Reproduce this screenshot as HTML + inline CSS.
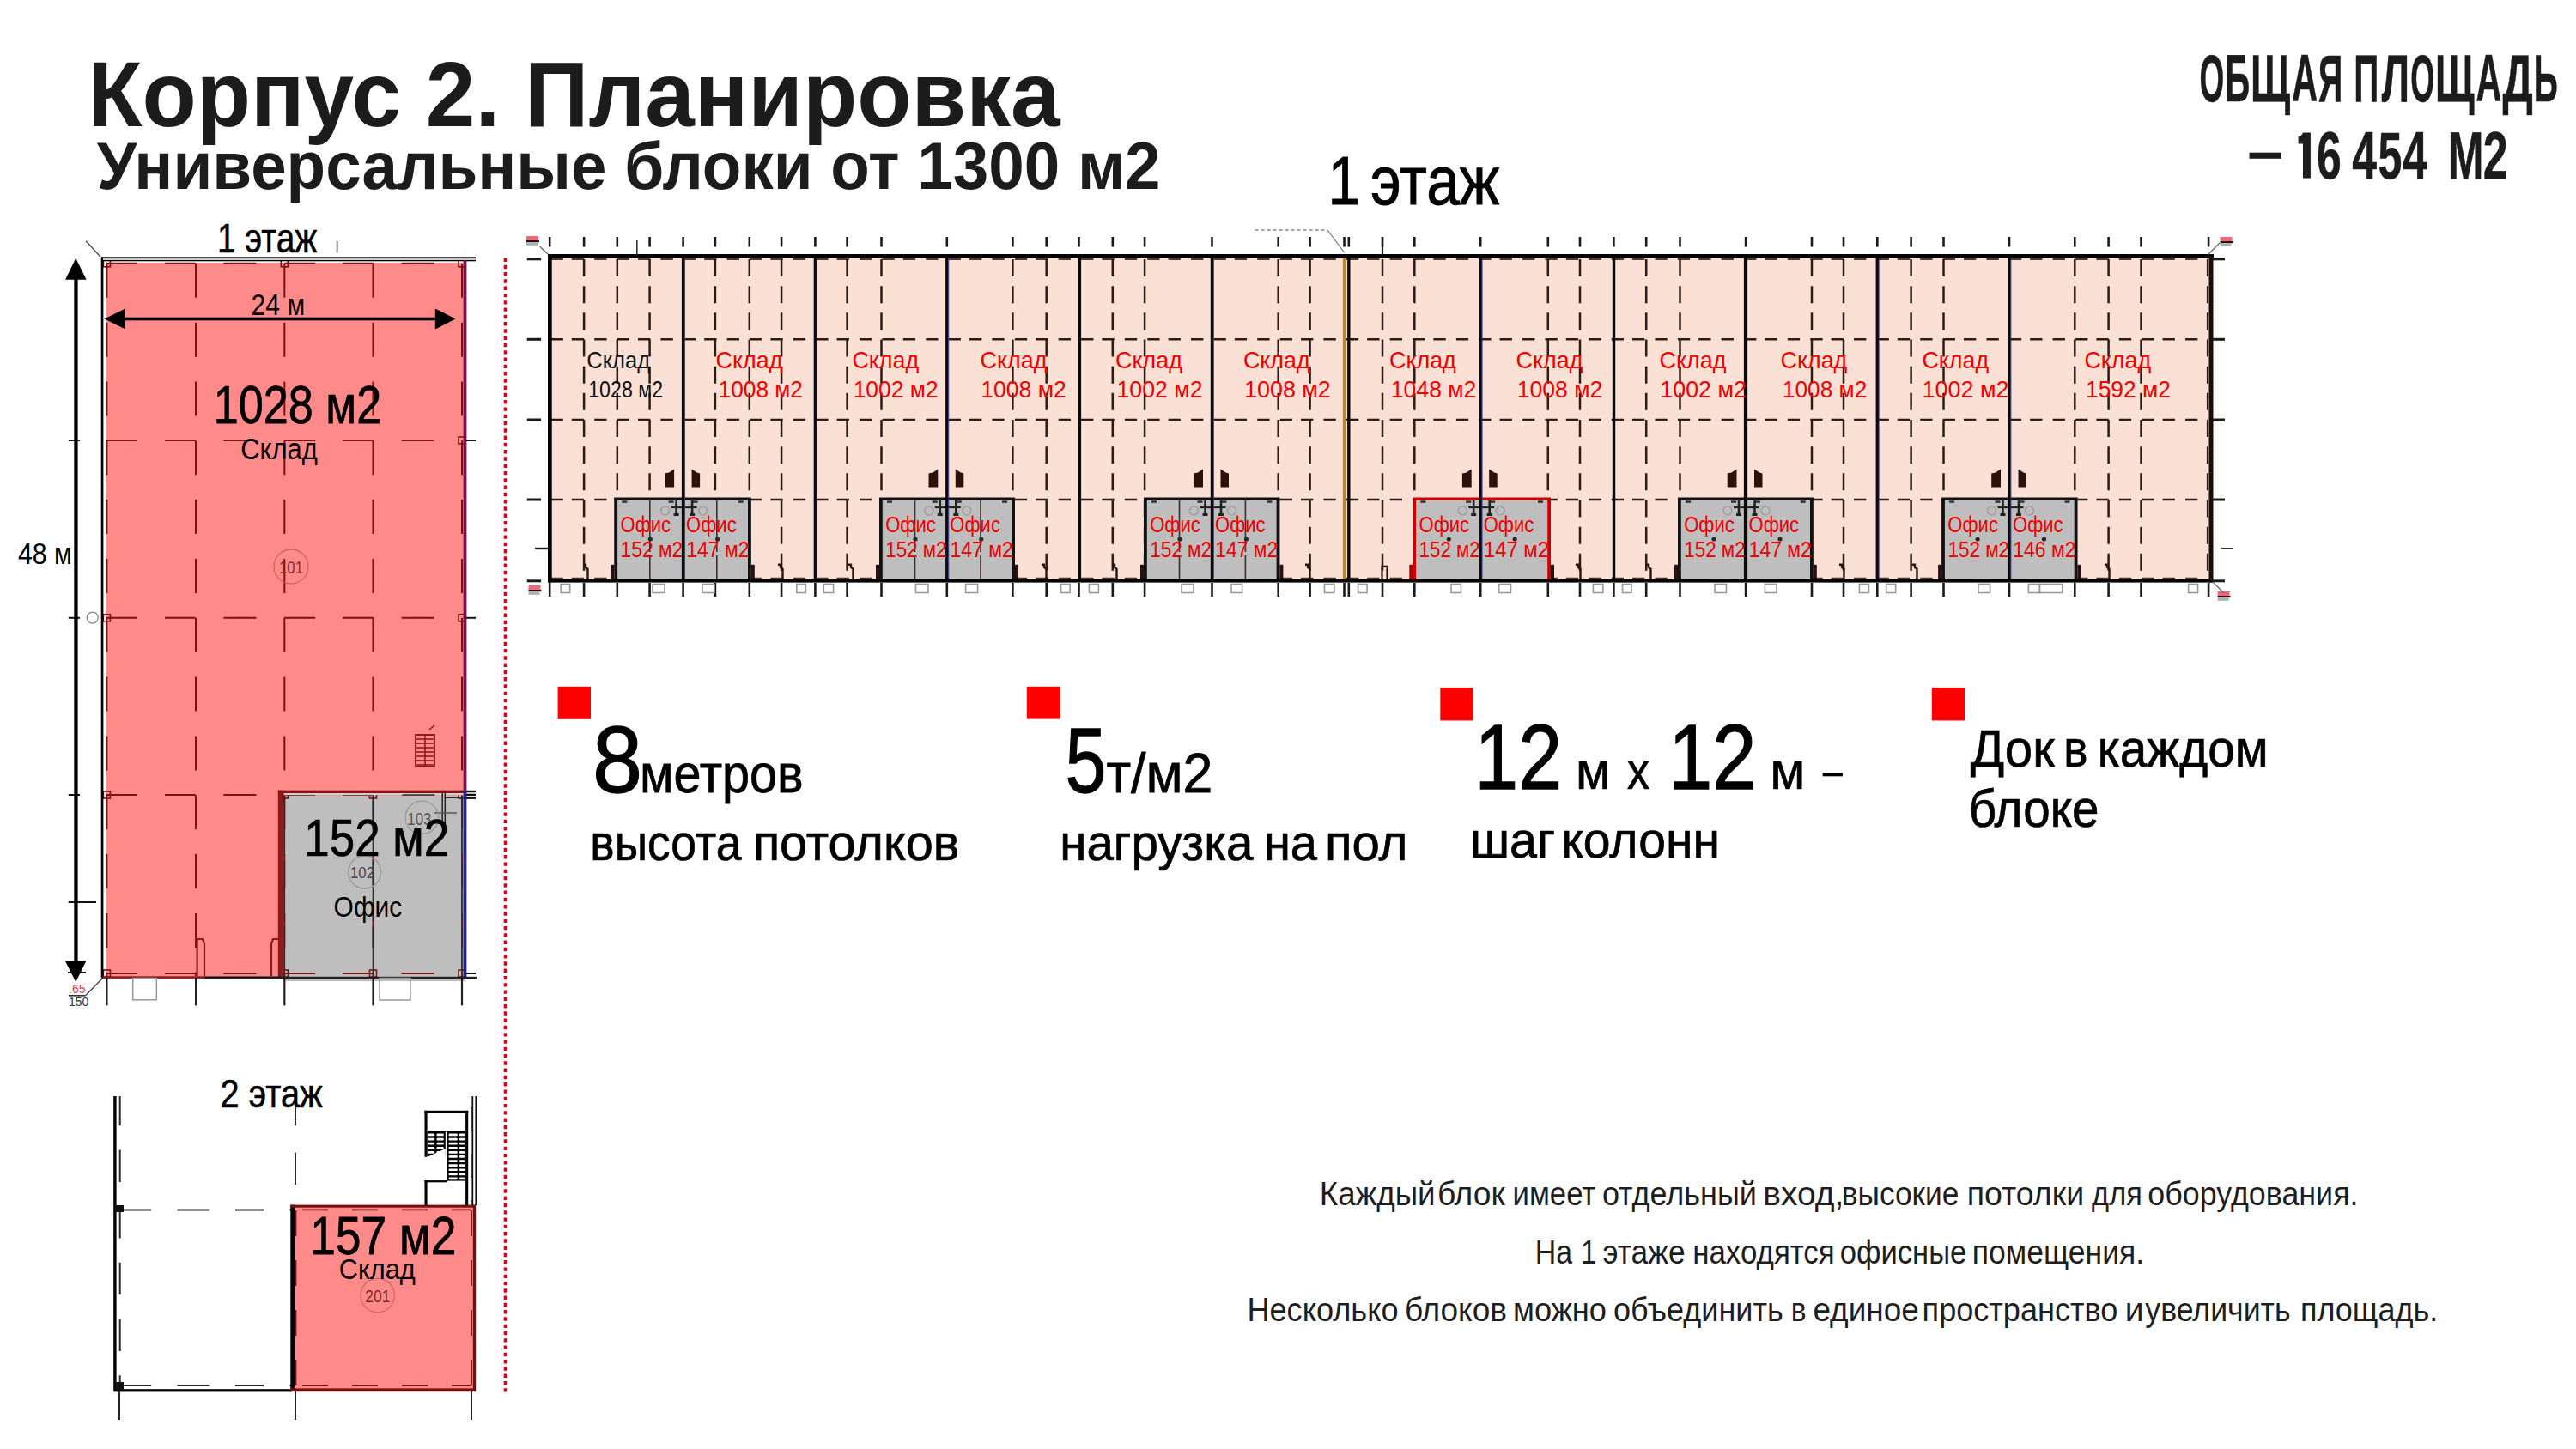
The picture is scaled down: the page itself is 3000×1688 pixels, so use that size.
<!DOCTYPE html>
<html><head><meta charset="utf-8"><title>Корпус 2. Планировка</title>
<style>
html,body{margin:0;padding:0;background:#fff;}
body{width:3000px;height:1688px;overflow:hidden;position:relative;}
svg{position:absolute;left:0;top:0;display:block;font-family:"Liberation Sans",sans-serif;}
</style></head><body>
<svg width="3000" height="1688" viewBox="0 0 3000 1688">
<rect x="640.3" y="298.3" width="1934.7" height="378.5" fill="#FBE0D5" />
<line x1="641.5" y1="395.3" x2="2572.0" y2="395.3" stroke="#2A1C16" stroke-width="2.5" stroke-dasharray="14.3 10 14.3 12.15 14.3 12.15"/>
<line x1="641.5" y1="489.0" x2="2572.0" y2="489.0" stroke="#2A1C16" stroke-width="2.5" stroke-dasharray="14.3 10 14.3 12.15 14.3 12.15"/>
<line x1="641.5" y1="582.0" x2="2572.0" y2="582.0" stroke="#2A1C16" stroke-width="2.5" stroke-dasharray="14.3 10 14.3 12.15 14.3 12.15"/>
<line x1="641.5" y1="301.8" x2="2572.0" y2="301.8" stroke="#2A1C16" stroke-width="2.2" stroke-dasharray="14.3 10 14.3 12.15 14.3 12.15" stroke-opacity="0.85"/>
<line x1="641.5" y1="673.8" x2="2572.0" y2="673.8" stroke="#2A1C16" stroke-width="2.2" stroke-dasharray="14.3 10 14.3 12.15 14.3 12.15" stroke-opacity="0.85"/>
<line x1="680.1" y1="302.0" x2="680.1" y2="676.0" stroke="#2A1C16" stroke-width="2.5" stroke-dasharray="20 11.17"/>
<line x1="718.8" y1="302.0" x2="718.8" y2="676.0" stroke="#2A1C16" stroke-width="2.5" stroke-dasharray="20 11.17"/>
<line x1="756.6" y1="302.0" x2="756.6" y2="676.0" stroke="#2A1C16" stroke-width="2.5" stroke-dasharray="20 11.17"/>
<line x1="832.9" y1="302.0" x2="832.9" y2="676.0" stroke="#2A1C16" stroke-width="2.5" stroke-dasharray="20 11.17"/>
<line x1="872.8" y1="302.0" x2="872.8" y2="676.0" stroke="#2A1C16" stroke-width="2.5" stroke-dasharray="20 11.17"/>
<line x1="910.1" y1="302.0" x2="910.1" y2="676.0" stroke="#2A1C16" stroke-width="2.5" stroke-dasharray="20 11.17"/>
<line x1="986.6" y1="302.0" x2="986.6" y2="676.0" stroke="#2A1C16" stroke-width="2.5" stroke-dasharray="20 11.17"/>
<line x1="1026.5" y1="302.0" x2="1026.5" y2="676.0" stroke="#2A1C16" stroke-width="2.5" stroke-dasharray="20 11.17"/>
<line x1="1179.4" y1="302.0" x2="1179.4" y2="676.0" stroke="#2A1C16" stroke-width="2.5" stroke-dasharray="20 11.17"/>
<line x1="1218.7" y1="302.0" x2="1218.7" y2="676.0" stroke="#2A1C16" stroke-width="2.5" stroke-dasharray="20 11.17"/>
<line x1="1295.8" y1="302.0" x2="1295.8" y2="676.0" stroke="#2A1C16" stroke-width="2.5" stroke-dasharray="20 11.17"/>
<line x1="1333.1" y1="302.0" x2="1333.1" y2="676.0" stroke="#2A1C16" stroke-width="2.5" stroke-dasharray="20 11.17"/>
<line x1="1488.7" y1="302.0" x2="1488.7" y2="676.0" stroke="#2A1C16" stroke-width="2.5" stroke-dasharray="20 11.17"/>
<line x1="1525.6" y1="302.0" x2="1525.6" y2="676.0" stroke="#2A1C16" stroke-width="2.5" stroke-dasharray="20 11.17"/>
<line x1="1610.0" y1="302.0" x2="1610.0" y2="676.0" stroke="#2A1C16" stroke-width="2.5" stroke-dasharray="20 11.17"/>
<line x1="1647.3" y1="302.0" x2="1647.3" y2="676.0" stroke="#2A1C16" stroke-width="2.5" stroke-dasharray="20 11.17"/>
<line x1="1802.8" y1="302.0" x2="1802.8" y2="676.0" stroke="#2A1C16" stroke-width="2.5" stroke-dasharray="20 11.17"/>
<line x1="1840.0" y1="302.0" x2="1840.0" y2="676.0" stroke="#2A1C16" stroke-width="2.5" stroke-dasharray="20 11.17"/>
<line x1="1917.2" y1="302.0" x2="1917.2" y2="676.0" stroke="#2A1C16" stroke-width="2.5" stroke-dasharray="20 11.17"/>
<line x1="1956.5" y1="302.0" x2="1956.5" y2="676.0" stroke="#2A1C16" stroke-width="2.5" stroke-dasharray="20 11.17"/>
<line x1="2110.0" y1="302.0" x2="2110.0" y2="676.0" stroke="#2A1C16" stroke-width="2.5" stroke-dasharray="20 11.17"/>
<line x1="2147.0" y1="302.0" x2="2147.0" y2="676.0" stroke="#2A1C16" stroke-width="2.5" stroke-dasharray="20 11.17"/>
<line x1="2225.6" y1="302.0" x2="2225.6" y2="676.0" stroke="#2A1C16" stroke-width="2.5" stroke-dasharray="20 11.17"/>
<line x1="2263.5" y1="302.0" x2="2263.5" y2="676.0" stroke="#2A1C16" stroke-width="2.5" stroke-dasharray="20 11.17"/>
<line x1="2416.3" y1="302.0" x2="2416.3" y2="676.0" stroke="#2A1C16" stroke-width="2.5" stroke-dasharray="20 11.17"/>
<line x1="2455.6" y1="302.0" x2="2455.6" y2="676.0" stroke="#2A1C16" stroke-width="2.5" stroke-dasharray="20 11.17"/>
<line x1="2493.5" y1="302.0" x2="2493.5" y2="676.0" stroke="#2A1C16" stroke-width="2.5" stroke-dasharray="20 11.17"/>
<rect x="715.3" y="580.0" width="159.5" height="96.8" fill="#BEBEBE" />
<rect x="715.3" y="580.0" width="3.8" height="96.8" fill="#111" />
<rect x="871.0" y="580.0" width="3.8" height="96.8" fill="#111" />
<rect x="715.3" y="579.5" width="159.5" height="3.0" fill="#111" />
<line x1="756.8" y1="583.0" x2="756.8" y2="674.8" stroke="#3a3030" stroke-width="1.6" stroke-dasharray="60 4"/>
<line x1="834.8" y1="583.0" x2="834.8" y2="674.8" stroke="#3a3030" stroke-width="1.6" stroke-dasharray="60 4"/>
<rect x="724.3" y="583.3" width="6.0" height="2.5" fill="#333" />
<rect x="778.6" y="583.3" width="6.0" height="2.5" fill="#333" />
<rect x="806.6" y="583.3" width="6.0" height="2.5" fill="#333" />
<rect x="859.8" y="583.3" width="6.0" height="2.5" fill="#333" />
<line x1="781.6" y1="591.0" x2="811.6" y2="591.0" stroke="#222" stroke-width="2.2"/>
<line x1="787.6" y1="583.0" x2="787.6" y2="600.0" stroke="#222" stroke-width="2.6"/>
<line x1="806.1" y1="583.0" x2="806.1" y2="600.0" stroke="#222" stroke-width="2.6"/>
<rect x="784.6" y="598.0" width="6.0" height="3.0" fill="#222" />
<rect x="803.1" y="598.0" width="6.0" height="3.0" fill="#222" />
<circle cx="774.6" cy="595.0" r="5" fill="none" stroke="#8a8a8a" stroke-width="1.6" opacity="0.6"/>
<circle cx="818.6" cy="595.0" r="5" fill="none" stroke="#8a8a8a" stroke-width="1.6" opacity="0.6"/>
<circle cx="757.3" cy="628.0" r="2.6" fill="#2a2a2a"/>
<circle cx="835.6" cy="628.0" r="2.6" fill="#2a2a2a"/>
<rect x="711.3" y="657.8" width="4.0" height="19.0" fill="#2a1010" />
<rect x="874.8" y="657.8" width="4.0" height="19.0" fill="#2a1010" />
<path d="M774.3000000000001,567.5 L774.3000000000001,551.5 L779.1,550.5 L785.1,546.6 L785.1,567.5 Z" fill="#2A120C" />
<path d="M805.6,567.5 L805.6,546.6 L811.6,550.5 L815.1,551.5 L815.1,567.5 Z" fill="#2A120C" />
<text x="722.5" y="619.7" font-size="25.5" fill="#F00000" textLength="58.6" lengthAdjust="spacingAndGlyphs" >Офис</text>
<text x="722.6" y="649.2" font-size="26" fill="#F00000" textLength="72.7" lengthAdjust="spacingAndGlyphs" >152 м2</text>
<text x="799.1" y="619.7" font-size="25.5" fill="#F00000" textLength="58.6" lengthAdjust="spacingAndGlyphs" >Офис</text>
<text x="799.3" y="649.2" font-size="26" fill="#F00000" textLength="73.3" lengthAdjust="spacingAndGlyphs" >147 м2</text>
<rect x="1024.0" y="580.0" width="158.0" height="96.8" fill="#BEBEBE" />
<rect x="1024.0" y="580.0" width="3.8" height="96.8" fill="#111" />
<rect x="1178.2" y="580.0" width="3.8" height="96.8" fill="#111" />
<rect x="1024.0" y="579.5" width="158.0" height="3.0" fill="#111" />
<line x1="1065.5" y1="583.0" x2="1065.5" y2="674.8" stroke="#3a3030" stroke-width="1.6" stroke-dasharray="60 4"/>
<line x1="1142.0" y1="583.0" x2="1142.0" y2="674.8" stroke="#3a3030" stroke-width="1.6" stroke-dasharray="60 4"/>
<rect x="1033.0" y="583.3" width="6.0" height="2.5" fill="#333" />
<rect x="1085.8" y="583.3" width="6.0" height="2.5" fill="#333" />
<rect x="1113.8" y="583.3" width="6.0" height="2.5" fill="#333" />
<rect x="1167.0" y="583.3" width="6.0" height="2.5" fill="#333" />
<line x1="1088.8" y1="591.0" x2="1118.8" y2="591.0" stroke="#222" stroke-width="2.2"/>
<line x1="1094.8" y1="583.0" x2="1094.8" y2="600.0" stroke="#222" stroke-width="2.6"/>
<line x1="1113.3" y1="583.0" x2="1113.3" y2="600.0" stroke="#222" stroke-width="2.6"/>
<rect x="1091.8" y="598.0" width="6.0" height="3.0" fill="#222" />
<rect x="1110.3" y="598.0" width="6.0" height="3.0" fill="#222" />
<circle cx="1081.8" cy="595.0" r="5" fill="none" stroke="#8a8a8a" stroke-width="1.6" opacity="0.6"/>
<circle cx="1125.8" cy="595.0" r="5" fill="none" stroke="#8a8a8a" stroke-width="1.6" opacity="0.6"/>
<circle cx="1066.0" cy="628.0" r="2.6" fill="#2a2a2a"/>
<circle cx="1142.8" cy="628.0" r="2.6" fill="#2a2a2a"/>
<rect x="1020.0" y="657.8" width="4.0" height="19.0" fill="#2a1010" />
<rect x="1182.0" y="657.8" width="4.0" height="19.0" fill="#2a1010" />
<path d="M1081.5,567.5 L1081.5,551.5 L1086.3,550.5 L1092.3,546.6 L1092.3,567.5 Z" fill="#2A120C" />
<path d="M1112.8,567.5 L1112.8,546.6 L1118.8,550.5 L1122.3,551.5 L1122.3,567.5 Z" fill="#2A120C" />
<text x="1031.2" y="619.7" font-size="25.5" fill="#F00000" textLength="58.6" lengthAdjust="spacingAndGlyphs" >Офис</text>
<text x="1031.3" y="649.2" font-size="26" fill="#F00000" textLength="71.1" lengthAdjust="spacingAndGlyphs" >152 м2</text>
<text x="1106.3" y="619.7" font-size="25.5" fill="#F00000" textLength="58.6" lengthAdjust="spacingAndGlyphs" >Офис</text>
<text x="1106.5" y="649.2" font-size="26" fill="#F00000" textLength="73.3" lengthAdjust="spacingAndGlyphs" >147 м2</text>
<rect x="1332.0" y="580.0" width="158.4" height="96.8" fill="#BEBEBE" />
<rect x="1332.0" y="580.0" width="3.8" height="96.8" fill="#111" />
<rect x="1486.6" y="580.0" width="3.8" height="96.8" fill="#111" />
<rect x="1332.0" y="579.5" width="158.4" height="3.0" fill="#111" />
<line x1="1373.5" y1="583.0" x2="1373.5" y2="674.8" stroke="#3a3030" stroke-width="1.6" stroke-dasharray="60 4"/>
<line x1="1450.4" y1="583.0" x2="1450.4" y2="674.8" stroke="#3a3030" stroke-width="1.6" stroke-dasharray="60 4"/>
<rect x="1341.0" y="583.3" width="6.0" height="2.5" fill="#333" />
<rect x="1394.5" y="583.3" width="6.0" height="2.5" fill="#333" />
<rect x="1422.5" y="583.3" width="6.0" height="2.5" fill="#333" />
<rect x="1475.4" y="583.3" width="6.0" height="2.5" fill="#333" />
<line x1="1397.5" y1="591.0" x2="1427.5" y2="591.0" stroke="#222" stroke-width="2.2"/>
<line x1="1403.5" y1="583.0" x2="1403.5" y2="600.0" stroke="#222" stroke-width="2.6"/>
<line x1="1422.0" y1="583.0" x2="1422.0" y2="600.0" stroke="#222" stroke-width="2.6"/>
<rect x="1400.5" y="598.0" width="6.0" height="3.0" fill="#222" />
<rect x="1419.0" y="598.0" width="6.0" height="3.0" fill="#222" />
<circle cx="1390.5" cy="595.0" r="5" fill="none" stroke="#8a8a8a" stroke-width="1.6" opacity="0.6"/>
<circle cx="1434.5" cy="595.0" r="5" fill="none" stroke="#8a8a8a" stroke-width="1.6" opacity="0.6"/>
<circle cx="1374.0" cy="628.0" r="2.6" fill="#2a2a2a"/>
<circle cx="1451.5" cy="628.0" r="2.6" fill="#2a2a2a"/>
<rect x="1328.0" y="657.8" width="4.0" height="19.0" fill="#2a1010" />
<rect x="1490.4" y="657.8" width="4.0" height="19.0" fill="#2a1010" />
<path d="M1390.2,567.5 L1390.2,551.5 L1395.0,550.5 L1401.0,546.6 L1401.0,567.5 Z" fill="#2A120C" />
<path d="M1421.5,567.5 L1421.5,546.6 L1427.5,550.5 L1431.0,551.5 L1431.0,567.5 Z" fill="#2A120C" />
<text x="1339.2" y="619.7" font-size="25.5" fill="#F00000" textLength="58.6" lengthAdjust="spacingAndGlyphs" >Офис</text>
<text x="1339.3" y="649.2" font-size="26" fill="#F00000" textLength="71.8" lengthAdjust="spacingAndGlyphs" >152 м2</text>
<text x="1415.0" y="619.7" font-size="25.5" fill="#F00000" textLength="58.6" lengthAdjust="spacingAndGlyphs" >Офис</text>
<text x="1415.3" y="649.2" font-size="26" fill="#F00000" textLength="73.0" lengthAdjust="spacingAndGlyphs" >147 м2</text>
<rect x="1645.3" y="580.0" width="160.7" height="96.8" fill="#BEBEBE" />
<rect x="1645.3" y="580.0" width="3.8" height="96.8" fill="#D00000" />
<rect x="1802.2" y="580.0" width="3.8" height="96.8" fill="#D00000" />
<rect x="1645.3" y="579.5" width="160.7" height="3.0" fill="#D00000" />
<rect x="1654.3" y="583.3" width="6.0" height="2.5" fill="#333" />
<rect x="1707.2" y="583.3" width="6.0" height="2.5" fill="#333" />
<rect x="1735.2" y="583.3" width="6.0" height="2.5" fill="#333" />
<rect x="1791.0" y="583.3" width="6.0" height="2.5" fill="#333" />
<line x1="1710.2" y1="591.0" x2="1740.2" y2="591.0" stroke="#222" stroke-width="2.2"/>
<line x1="1716.2" y1="583.0" x2="1716.2" y2="600.0" stroke="#222" stroke-width="2.6"/>
<line x1="1734.7" y1="583.0" x2="1734.7" y2="600.0" stroke="#222" stroke-width="2.6"/>
<rect x="1713.2" y="598.0" width="6.0" height="3.0" fill="#222" />
<rect x="1731.7" y="598.0" width="6.0" height="3.0" fill="#222" />
<circle cx="1703.2" cy="595.0" r="5" fill="none" stroke="#8a8a8a" stroke-width="1.6" opacity="0.6"/>
<circle cx="1747.2" cy="595.0" r="5" fill="none" stroke="#8a8a8a" stroke-width="1.6" opacity="0.6"/>
<circle cx="1687.3" cy="628.0" r="2.6" fill="#2a2a2a"/>
<circle cx="1764.2" cy="628.0" r="2.6" fill="#2a2a2a"/>
<rect x="1641.3" y="657.8" width="4.0" height="19.0" fill="#B00000" />
<rect x="1806.0" y="657.8" width="4.0" height="19.0" fill="#2a1010" />
<path d="M1702.9,567.5 L1702.9,551.5 L1707.7,550.5 L1713.7,546.6 L1713.7,567.5 Z" fill="#2A120C" />
<path d="M1734.2,567.5 L1734.2,546.6 L1740.2,550.5 L1743.7,551.5 L1743.7,567.5 Z" fill="#2A120C" />
<text x="1652.5" y="619.7" font-size="25.5" fill="#F00000" textLength="58.6" lengthAdjust="spacingAndGlyphs" >Офис</text>
<text x="1652.6" y="649.2" font-size="26" fill="#F00000" textLength="71.2" lengthAdjust="spacingAndGlyphs" >152 м2</text>
<text x="1727.7" y="619.7" font-size="25.5" fill="#F00000" textLength="58.6" lengthAdjust="spacingAndGlyphs" >Офис</text>
<text x="1727.9" y="649.2" font-size="26" fill="#F00000" textLength="76.0" lengthAdjust="spacingAndGlyphs" >147 м2</text>
<rect x="1954.0" y="580.0" width="157.8" height="96.8" fill="#BEBEBE" />
<rect x="1954.0" y="580.0" width="3.8" height="96.8" fill="#111" />
<rect x="2108.0" y="580.0" width="3.8" height="96.8" fill="#111" />
<rect x="1954.0" y="579.5" width="157.8" height="3.0" fill="#111" />
<rect x="1963.0" y="583.3" width="6.0" height="2.5" fill="#333" />
<rect x="2016.0" y="583.3" width="6.0" height="2.5" fill="#333" />
<rect x="2044.0" y="583.3" width="6.0" height="2.5" fill="#333" />
<rect x="2096.8" y="583.3" width="6.0" height="2.5" fill="#333" />
<line x1="2019.0" y1="591.0" x2="2049.0" y2="591.0" stroke="#222" stroke-width="2.2"/>
<line x1="2025.0" y1="583.0" x2="2025.0" y2="600.0" stroke="#222" stroke-width="2.6"/>
<line x1="2043.5" y1="583.0" x2="2043.5" y2="600.0" stroke="#222" stroke-width="2.6"/>
<rect x="2022.0" y="598.0" width="6.0" height="3.0" fill="#222" />
<rect x="2040.5" y="598.0" width="6.0" height="3.0" fill="#222" />
<circle cx="2012.0" cy="595.0" r="5" fill="none" stroke="#8a8a8a" stroke-width="1.6" opacity="0.6"/>
<circle cx="2056.0" cy="595.0" r="5" fill="none" stroke="#8a8a8a" stroke-width="1.6" opacity="0.6"/>
<circle cx="1996.0" cy="628.0" r="2.6" fill="#2a2a2a"/>
<circle cx="2073.0" cy="628.0" r="2.6" fill="#2a2a2a"/>
<rect x="1950.0" y="657.8" width="4.0" height="19.0" fill="#2a1010" />
<rect x="2111.8" y="657.8" width="4.0" height="19.0" fill="#2a1010" />
<path d="M2011.7,567.5 L2011.7,551.5 L2016.5,550.5 L2022.5,546.6 L2022.5,567.5 Z" fill="#2A120C" />
<path d="M2043.0,567.5 L2043.0,546.6 L2049.0,550.5 L2052.5,551.5 L2052.5,567.5 Z" fill="#2A120C" />
<text x="1961.2" y="619.7" font-size="25.5" fill="#F00000" textLength="58.6" lengthAdjust="spacingAndGlyphs" >Офис</text>
<text x="1961.3" y="649.2" font-size="26" fill="#F00000" textLength="71.3" lengthAdjust="spacingAndGlyphs" >152 м2</text>
<text x="2036.5" y="619.7" font-size="25.5" fill="#F00000" textLength="58.6" lengthAdjust="spacingAndGlyphs" >Офис</text>
<text x="2036.8" y="649.2" font-size="26" fill="#F00000" textLength="72.9" lengthAdjust="spacingAndGlyphs" >147 м2</text>
<rect x="2261.1" y="580.0" width="158.4" height="96.8" fill="#BEBEBE" />
<rect x="2261.1" y="580.0" width="3.8" height="96.8" fill="#111" />
<rect x="2415.7" y="580.0" width="3.8" height="96.8" fill="#111" />
<rect x="2261.1" y="579.5" width="158.4" height="3.0" fill="#111" />
<rect x="2270.1" y="583.3" width="6.0" height="2.5" fill="#333" />
<rect x="2323.5" y="583.3" width="6.0" height="2.5" fill="#333" />
<rect x="2351.5" y="583.3" width="6.0" height="2.5" fill="#333" />
<rect x="2404.5" y="583.3" width="6.0" height="2.5" fill="#333" />
<line x1="2326.5" y1="591.0" x2="2356.5" y2="591.0" stroke="#222" stroke-width="2.2"/>
<line x1="2332.5" y1="583.0" x2="2332.5" y2="600.0" stroke="#222" stroke-width="2.6"/>
<line x1="2351.0" y1="583.0" x2="2351.0" y2="600.0" stroke="#222" stroke-width="2.6"/>
<rect x="2329.5" y="598.0" width="6.0" height="3.0" fill="#222" />
<rect x="2348.0" y="598.0" width="6.0" height="3.0" fill="#222" />
<circle cx="2319.5" cy="595.0" r="5" fill="none" stroke="#8a8a8a" stroke-width="1.6" opacity="0.6"/>
<circle cx="2363.5" cy="595.0" r="5" fill="none" stroke="#8a8a8a" stroke-width="1.6" opacity="0.6"/>
<circle cx="2303.1" cy="628.0" r="2.6" fill="#2a2a2a"/>
<circle cx="2380.5" cy="628.0" r="2.6" fill="#2a2a2a"/>
<rect x="2257.1" y="657.8" width="4.0" height="19.0" fill="#2a1010" />
<rect x="2419.5" y="657.8" width="4.0" height="19.0" fill="#2a1010" />
<path d="M2319.2,567.5 L2319.2,551.5 L2324.0,550.5 L2330.0,546.6 L2330.0,567.5 Z" fill="#2A120C" />
<path d="M2350.5,567.5 L2350.5,546.6 L2356.5,550.5 L2360.0,551.5 L2360.0,567.5 Z" fill="#2A120C" />
<text x="2268.3" y="619.7" font-size="25.5" fill="#F00000" textLength="58.6" lengthAdjust="spacingAndGlyphs" >Офис</text>
<text x="2268.4" y="649.2" font-size="26" fill="#F00000" textLength="71.7" lengthAdjust="spacingAndGlyphs" >152 м2</text>
<text x="2344.0" y="619.7" font-size="25.5" fill="#F00000" textLength="58.6" lengthAdjust="spacingAndGlyphs" >Офис</text>
<text x="2344.3" y="649.2" font-size="26" fill="#F00000" textLength="73.1" lengthAdjust="spacingAndGlyphs" >146 м2</text>
<line x1="795.6" y1="298.3" x2="795.6" y2="676.8" stroke="#0a0a0a" stroke-width="3.4"/>
<line x1="797.5" y1="301.3" x2="797.5" y2="674.8" stroke="#3030a0" stroke-width="1.1" stroke-opacity="0.8"/>
<line x1="949.4" y1="298.3" x2="949.4" y2="676.8" stroke="#0a0a0a" stroke-width="3.4"/>
<line x1="951.3" y1="301.3" x2="951.3" y2="674.8" stroke="#3030a0" stroke-width="1.1" stroke-opacity="0.8"/>
<line x1="1102.8" y1="298.3" x2="1102.8" y2="676.8" stroke="#0a0a0a" stroke-width="3.4"/>
<line x1="1104.7" y1="301.3" x2="1104.7" y2="674.8" stroke="#3030a0" stroke-width="1.1" stroke-opacity="0.8"/>
<line x1="1257.4" y1="298.3" x2="1257.4" y2="676.8" stroke="#0a0a0a" stroke-width="3.4"/>
<line x1="1411.5" y1="298.3" x2="1411.5" y2="676.8" stroke="#0a0a0a" stroke-width="3.4"/>
<line x1="1413.4" y1="301.3" x2="1413.4" y2="674.8" stroke="#3030a0" stroke-width="1.1" stroke-opacity="0.8"/>
<line x1="1570.8" y1="298.3" x2="1570.8" y2="676.8" stroke="#0a0a0a" stroke-width="3.4"/>
<line x1="1724.2" y1="298.3" x2="1724.2" y2="676.8" stroke="#0a0a0a" stroke-width="3.4"/>
<line x1="1726.1" y1="301.3" x2="1726.1" y2="674.8" stroke="#3030a0" stroke-width="1.1" stroke-opacity="0.8"/>
<line x1="1879.5" y1="298.3" x2="1879.5" y2="676.8" stroke="#0a0a0a" stroke-width="3.4"/>
<line x1="2033.0" y1="298.3" x2="2033.0" y2="676.8" stroke="#0a0a0a" stroke-width="4.2"/>
<line x1="2186.3" y1="298.3" x2="2186.3" y2="676.8" stroke="#0a0a0a" stroke-width="3.4"/>
<line x1="2188.2" y1="301.3" x2="2188.2" y2="674.8" stroke="#3030a0" stroke-width="1.1" stroke-opacity="0.8"/>
<line x1="2340.0" y1="298.3" x2="2340.0" y2="676.8" stroke="#0a0a0a" stroke-width="3.4"/>
<line x1="2341.9" y1="301.3" x2="2341.9" y2="674.8" stroke="#3030a0" stroke-width="1.1" stroke-opacity="0.8"/>
<line x1="1565.5" y1="300.0" x2="1565.5" y2="676.0" stroke="#B8862E" stroke-width="3.2"/>
<rect x="638.0" y="296.0" width="1940.0" height="4.6" fill="#000" />
<rect x="638.0" y="675.0" width="1940.0" height="3.6" fill="#000" />
<rect x="638.0" y="296.0" width="4.7" height="382.5" fill="#000" />
<rect x="2572.5" y="296.0" width="5.0" height="382.5" fill="#1a0e0a" />
<line x1="2571.0" y1="302.0" x2="2571.0" y2="675.0" stroke="#2a1a14" stroke-width="2.2" stroke-dasharray="20 11.17"/>
<line x1="640.2" y1="276.0" x2="640.2" y2="287.5" stroke="#1a1a1a" stroke-width="2.6"/>
<line x1="640.2" y1="679.0" x2="640.2" y2="695.0" stroke="#1a1a1a" stroke-width="2.6"/>
<line x1="680.1" y1="276.0" x2="680.1" y2="287.5" stroke="#1a1a1a" stroke-width="2.6"/>
<line x1="680.1" y1="679.0" x2="680.1" y2="695.0" stroke="#1a1a1a" stroke-width="2.6"/>
<line x1="718.8" y1="276.0" x2="718.8" y2="287.5" stroke="#1a1a1a" stroke-width="2.6"/>
<line x1="718.8" y1="679.0" x2="718.8" y2="695.0" stroke="#1a1a1a" stroke-width="2.6"/>
<line x1="756.6" y1="276.0" x2="756.6" y2="287.5" stroke="#1a1a1a" stroke-width="2.6"/>
<line x1="756.6" y1="679.0" x2="756.6" y2="695.0" stroke="#1a1a1a" stroke-width="2.6"/>
<line x1="795.6" y1="276.0" x2="795.6" y2="287.5" stroke="#1a1a1a" stroke-width="2.6"/>
<line x1="795.6" y1="679.0" x2="795.6" y2="695.0" stroke="#1a1a1a" stroke-width="2.6"/>
<line x1="832.9" y1="276.0" x2="832.9" y2="287.5" stroke="#1a1a1a" stroke-width="2.6"/>
<line x1="832.9" y1="679.0" x2="832.9" y2="695.0" stroke="#1a1a1a" stroke-width="2.6"/>
<line x1="872.8" y1="276.0" x2="872.8" y2="287.5" stroke="#1a1a1a" stroke-width="2.6"/>
<line x1="872.8" y1="679.0" x2="872.8" y2="695.0" stroke="#1a1a1a" stroke-width="2.6"/>
<line x1="910.1" y1="276.0" x2="910.1" y2="287.5" stroke="#1a1a1a" stroke-width="2.6"/>
<line x1="910.1" y1="679.0" x2="910.1" y2="695.0" stroke="#1a1a1a" stroke-width="2.6"/>
<line x1="949.4" y1="276.0" x2="949.4" y2="287.5" stroke="#1a1a1a" stroke-width="2.6"/>
<line x1="949.4" y1="679.0" x2="949.4" y2="695.0" stroke="#1a1a1a" stroke-width="2.6"/>
<line x1="986.6" y1="276.0" x2="986.6" y2="287.5" stroke="#1a1a1a" stroke-width="2.6"/>
<line x1="986.6" y1="679.0" x2="986.6" y2="695.0" stroke="#1a1a1a" stroke-width="2.6"/>
<line x1="1026.5" y1="276.0" x2="1026.5" y2="287.5" stroke="#1a1a1a" stroke-width="2.6"/>
<line x1="1026.5" y1="679.0" x2="1026.5" y2="695.0" stroke="#1a1a1a" stroke-width="2.6"/>
<line x1="1102.8" y1="276.0" x2="1102.8" y2="287.5" stroke="#1a1a1a" stroke-width="2.6"/>
<line x1="1102.8" y1="679.0" x2="1102.8" y2="695.0" stroke="#1a1a1a" stroke-width="2.6"/>
<line x1="1179.4" y1="276.0" x2="1179.4" y2="287.5" stroke="#1a1a1a" stroke-width="2.6"/>
<line x1="1179.4" y1="679.0" x2="1179.4" y2="695.0" stroke="#1a1a1a" stroke-width="2.6"/>
<line x1="1218.7" y1="276.0" x2="1218.7" y2="287.5" stroke="#1a1a1a" stroke-width="2.6"/>
<line x1="1218.7" y1="679.0" x2="1218.7" y2="695.0" stroke="#1a1a1a" stroke-width="2.6"/>
<line x1="1256.5" y1="276.0" x2="1256.5" y2="287.5" stroke="#1a1a1a" stroke-width="2.6"/>
<line x1="1256.5" y1="679.0" x2="1256.5" y2="695.0" stroke="#1a1a1a" stroke-width="2.6"/>
<line x1="1295.8" y1="276.0" x2="1295.8" y2="287.5" stroke="#1a1a1a" stroke-width="2.6"/>
<line x1="1295.8" y1="679.0" x2="1295.8" y2="695.0" stroke="#1a1a1a" stroke-width="2.6"/>
<line x1="1333.1" y1="276.0" x2="1333.1" y2="287.5" stroke="#1a1a1a" stroke-width="2.6"/>
<line x1="1333.1" y1="679.0" x2="1333.1" y2="695.0" stroke="#1a1a1a" stroke-width="2.6"/>
<line x1="1411.5" y1="276.0" x2="1411.5" y2="287.5" stroke="#1a1a1a" stroke-width="2.6"/>
<line x1="1411.5" y1="679.0" x2="1411.5" y2="695.0" stroke="#1a1a1a" stroke-width="2.6"/>
<line x1="1488.7" y1="276.0" x2="1488.7" y2="287.5" stroke="#1a1a1a" stroke-width="2.6"/>
<line x1="1488.7" y1="679.0" x2="1488.7" y2="695.0" stroke="#1a1a1a" stroke-width="2.6"/>
<line x1="1525.6" y1="276.0" x2="1525.6" y2="287.5" stroke="#1a1a1a" stroke-width="2.6"/>
<line x1="1525.6" y1="679.0" x2="1525.6" y2="695.0" stroke="#1a1a1a" stroke-width="2.6"/>
<line x1="1565.5" y1="276.0" x2="1565.5" y2="287.5" stroke="#1a1a1a" stroke-width="2.6"/>
<line x1="1565.5" y1="679.0" x2="1565.5" y2="695.0" stroke="#1a1a1a" stroke-width="2.6"/>
<line x1="1570.8" y1="276.0" x2="1570.8" y2="287.5" stroke="#1a1a1a" stroke-width="2.6"/>
<line x1="1570.8" y1="679.0" x2="1570.8" y2="695.0" stroke="#1a1a1a" stroke-width="2.6"/>
<line x1="1610.0" y1="276.0" x2="1610.0" y2="287.5" stroke="#1a1a1a" stroke-width="2.6"/>
<line x1="1610.0" y1="679.0" x2="1610.0" y2="695.0" stroke="#1a1a1a" stroke-width="2.6"/>
<line x1="1647.3" y1="276.0" x2="1647.3" y2="287.5" stroke="#1a1a1a" stroke-width="2.6"/>
<line x1="1647.3" y1="679.0" x2="1647.3" y2="695.0" stroke="#1a1a1a" stroke-width="2.6"/>
<line x1="1724.2" y1="276.0" x2="1724.2" y2="287.5" stroke="#1a1a1a" stroke-width="2.6"/>
<line x1="1724.2" y1="679.0" x2="1724.2" y2="695.0" stroke="#1a1a1a" stroke-width="2.6"/>
<line x1="1802.8" y1="276.0" x2="1802.8" y2="287.5" stroke="#1a1a1a" stroke-width="2.6"/>
<line x1="1802.8" y1="679.0" x2="1802.8" y2="695.0" stroke="#1a1a1a" stroke-width="2.6"/>
<line x1="1840.0" y1="276.0" x2="1840.0" y2="287.5" stroke="#1a1a1a" stroke-width="2.6"/>
<line x1="1840.0" y1="679.0" x2="1840.0" y2="695.0" stroke="#1a1a1a" stroke-width="2.6"/>
<line x1="1879.4" y1="276.0" x2="1879.4" y2="287.5" stroke="#1a1a1a" stroke-width="2.6"/>
<line x1="1879.4" y1="679.0" x2="1879.4" y2="695.0" stroke="#1a1a1a" stroke-width="2.6"/>
<line x1="1917.2" y1="276.0" x2="1917.2" y2="287.5" stroke="#1a1a1a" stroke-width="2.6"/>
<line x1="1917.2" y1="679.0" x2="1917.2" y2="695.0" stroke="#1a1a1a" stroke-width="2.6"/>
<line x1="1956.5" y1="276.0" x2="1956.5" y2="287.5" stroke="#1a1a1a" stroke-width="2.6"/>
<line x1="1956.5" y1="679.0" x2="1956.5" y2="695.0" stroke="#1a1a1a" stroke-width="2.6"/>
<line x1="2033.1" y1="276.0" x2="2033.1" y2="287.5" stroke="#1a1a1a" stroke-width="2.6"/>
<line x1="2033.1" y1="679.0" x2="2033.1" y2="695.0" stroke="#1a1a1a" stroke-width="2.6"/>
<line x1="2110.0" y1="276.0" x2="2110.0" y2="287.5" stroke="#1a1a1a" stroke-width="2.6"/>
<line x1="2110.0" y1="679.0" x2="2110.0" y2="695.0" stroke="#1a1a1a" stroke-width="2.6"/>
<line x1="2147.0" y1="276.0" x2="2147.0" y2="287.5" stroke="#1a1a1a" stroke-width="2.6"/>
<line x1="2147.0" y1="679.0" x2="2147.0" y2="695.0" stroke="#1a1a1a" stroke-width="2.6"/>
<line x1="2186.3" y1="276.0" x2="2186.3" y2="287.5" stroke="#1a1a1a" stroke-width="2.6"/>
<line x1="2186.3" y1="679.0" x2="2186.3" y2="695.0" stroke="#1a1a1a" stroke-width="2.6"/>
<line x1="2225.6" y1="276.0" x2="2225.6" y2="287.5" stroke="#1a1a1a" stroke-width="2.6"/>
<line x1="2225.6" y1="679.0" x2="2225.6" y2="695.0" stroke="#1a1a1a" stroke-width="2.6"/>
<line x1="2263.5" y1="276.0" x2="2263.5" y2="287.5" stroke="#1a1a1a" stroke-width="2.6"/>
<line x1="2263.5" y1="679.0" x2="2263.5" y2="695.0" stroke="#1a1a1a" stroke-width="2.6"/>
<line x1="2340.0" y1="276.0" x2="2340.0" y2="287.5" stroke="#1a1a1a" stroke-width="2.6"/>
<line x1="2340.0" y1="679.0" x2="2340.0" y2="695.0" stroke="#1a1a1a" stroke-width="2.6"/>
<line x1="2416.3" y1="276.0" x2="2416.3" y2="287.5" stroke="#1a1a1a" stroke-width="2.6"/>
<line x1="2416.3" y1="679.0" x2="2416.3" y2="695.0" stroke="#1a1a1a" stroke-width="2.6"/>
<line x1="2455.6" y1="276.0" x2="2455.6" y2="287.5" stroke="#1a1a1a" stroke-width="2.6"/>
<line x1="2455.6" y1="679.0" x2="2455.6" y2="695.0" stroke="#1a1a1a" stroke-width="2.6"/>
<line x1="2493.5" y1="276.0" x2="2493.5" y2="287.5" stroke="#1a1a1a" stroke-width="2.6"/>
<line x1="2493.5" y1="679.0" x2="2493.5" y2="695.0" stroke="#1a1a1a" stroke-width="2.6"/>
<line x1="2572.1" y1="276.0" x2="2572.1" y2="287.5" stroke="#1a1a1a" stroke-width="2.6"/>
<line x1="2572.1" y1="679.0" x2="2572.1" y2="695.0" stroke="#1a1a1a" stroke-width="2.6"/>
<line x1="1610.0" y1="276.0" x2="1610.0" y2="297.0" stroke="#1a1a1a" stroke-width="2.2"/>
<line x1="741.8" y1="280.0" x2="741.8" y2="297.0" stroke="#333" stroke-width="1.6"/>
<line x1="613.7" y1="301.8" x2="630.1" y2="301.8" stroke="#1a1a1a" stroke-width="3"/>
<line x1="2577.0" y1="301.8" x2="2591.0" y2="301.8" stroke="#1a1a1a" stroke-width="3"/>
<line x1="613.7" y1="395.3" x2="630.1" y2="395.3" stroke="#1a1a1a" stroke-width="3"/>
<line x1="2577.0" y1="395.3" x2="2591.0" y2="395.3" stroke="#1a1a1a" stroke-width="3"/>
<line x1="613.7" y1="489.0" x2="630.1" y2="489.0" stroke="#1a1a1a" stroke-width="3"/>
<line x1="2577.0" y1="489.0" x2="2591.0" y2="489.0" stroke="#1a1a1a" stroke-width="3"/>
<line x1="613.7" y1="582.0" x2="630.1" y2="582.0" stroke="#1a1a1a" stroke-width="3"/>
<line x1="2577.0" y1="582.0" x2="2591.0" y2="582.0" stroke="#1a1a1a" stroke-width="3"/>
<line x1="613.7" y1="676.8" x2="630.1" y2="676.8" stroke="#1a1a1a" stroke-width="3"/>
<line x1="2577.0" y1="676.8" x2="2591.0" y2="676.8" stroke="#1a1a1a" stroke-width="3"/>
<line x1="623.0" y1="639.0" x2="640.0" y2="639.0" stroke="#1a1a1a" stroke-width="2.4"/>
<line x1="2587.0" y1="639.0" x2="2600.0" y2="639.0" stroke="#333" stroke-width="2.0"/>
<rect x="613.0" y="275.0" width="14.0" height="5.0" fill="#EE6A78" />
<rect x="613.0" y="280.0" width="15.0" height="2.2" fill="#2a0c14" />
<rect x="613.0" y="282.4" width="13.0" height="3.4" fill="#8fa096" opacity="0.8"/>
<rect x="615.5" y="682.0" width="14.0" height="5.0" fill="#EE6A78" />
<rect x="615.5" y="687.0" width="15.0" height="2.2" fill="#2a0c14" />
<rect x="615.5" y="689.4" width="13.0" height="3.4" fill="#8fa096" opacity="0.8"/>
<rect x="2585.5" y="276.0" width="14.0" height="5.0" fill="#EE6A78" />
<rect x="2585.5" y="281.0" width="15.0" height="2.2" fill="#2a0c14" />
<rect x="2585.5" y="283.4" width="13.0" height="3.4" fill="#8fa096" opacity="0.8"/>
<rect x="2582.6" y="689.0" width="14.0" height="5.0" fill="#EE6A78" />
<rect x="2582.6" y="694.0" width="15.0" height="2.2" fill="#2a0c14" />
<rect x="2582.6" y="696.4" width="13.0" height="3.4" fill="#8fa096" opacity="0.8"/>
<line x1="628.6" y1="287.0" x2="638.0" y2="296.0" stroke="#666" stroke-width="1.3"/>
<line x1="2572.0" y1="296.0" x2="2585.0" y2="283.0" stroke="#666" stroke-width="1.3"/>
<line x1="2577.0" y1="678.0" x2="2590.0" y2="691.0" stroke="#666" stroke-width="1.3"/>
<line x1="1461.6" y1="268.0" x2="1546.0" y2="268.0" stroke="#888" stroke-width="1.6" stroke-dasharray="4 3"/>
<line x1="1546.0" y1="268.0" x2="1565.5" y2="294.0" stroke="#777" stroke-width="1.2"/>
<rect x="653.2" y="680.5" width="10.5" height="10.0" fill="none" stroke="#9a9a9a" stroke-width="1.6" />
<rect x="760.0" y="680.5" width="14.0" height="10.0" fill="none" stroke="#9a9a9a" stroke-width="1.6" />
<rect x="818.0" y="680.5" width="14.0" height="10.0" fill="none" stroke="#9a9a9a" stroke-width="1.6" />
<rect x="927.8" y="680.5" width="10.6" height="10.0" fill="none" stroke="#9a9a9a" stroke-width="1.6" />
<rect x="959.3" y="680.5" width="11.3" height="10.0" fill="none" stroke="#9a9a9a" stroke-width="1.6" />
<rect x="1066.5" y="680.5" width="14.5" height="10.0" fill="none" stroke="#9a9a9a" stroke-width="1.6" />
<rect x="1124.6" y="680.5" width="14.0" height="10.0" fill="none" stroke="#9a9a9a" stroke-width="1.6" />
<rect x="1235.6" y="680.5" width="10.5" height="10.0" fill="none" stroke="#9a9a9a" stroke-width="1.6" />
<rect x="1268.4" y="680.5" width="11.0" height="10.0" fill="none" stroke="#9a9a9a" stroke-width="1.6" />
<rect x="1376.0" y="680.5" width="14.0" height="10.0" fill="none" stroke="#9a9a9a" stroke-width="1.6" />
<rect x="1434.0" y="680.5" width="12.6" height="10.0" fill="none" stroke="#9a9a9a" stroke-width="1.6" />
<rect x="1542.5" y="680.5" width="11.4" height="10.0" fill="none" stroke="#9a9a9a" stroke-width="1.6" />
<rect x="1581.6" y="680.5" width="10.5" height="10.0" fill="none" stroke="#9a9a9a" stroke-width="1.6" />
<rect x="1690.0" y="680.5" width="11.5" height="10.0" fill="none" stroke="#9a9a9a" stroke-width="1.6" />
<rect x="1745.7" y="680.5" width="13.8" height="10.0" fill="none" stroke="#9a9a9a" stroke-width="1.6" />
<rect x="1855.4" y="680.5" width="11.4" height="10.0" fill="none" stroke="#9a9a9a" stroke-width="1.6" />
<rect x="1889.5" y="680.5" width="10.5" height="10.0" fill="none" stroke="#9a9a9a" stroke-width="1.6" />
<rect x="1997.0" y="680.5" width="13.5" height="10.0" fill="none" stroke="#9a9a9a" stroke-width="1.6" />
<rect x="2055.4" y="680.5" width="13.6" height="10.0" fill="none" stroke="#9a9a9a" stroke-width="1.6" />
<rect x="2165.4" y="680.5" width="11.0" height="10.0" fill="none" stroke="#9a9a9a" stroke-width="1.6" />
<rect x="2196.7" y="680.5" width="11.0" height="10.0" fill="none" stroke="#9a9a9a" stroke-width="1.6" />
<rect x="2304.0" y="680.5" width="13.6" height="10.0" fill="none" stroke="#9a9a9a" stroke-width="1.6" />
<rect x="2362.4" y="680.5" width="13.0" height="10.0" fill="none" stroke="#9a9a9a" stroke-width="1.6" />
<rect x="2375.4" y="680.5" width="26.4" height="10.0" fill="none" stroke="#9a9a9a" stroke-width="1.6" />
<rect x="2548.6" y="680.5" width="11.0" height="10.0" fill="none" stroke="#9a9a9a" stroke-width="1.6" />
<path d="M679,657.8 L682,657.8 L682,660.8 L684.5,662.8 L684.5,675.8" fill="none" stroke="#2a1510" stroke-width="2.4" />
<path d="M906,657.8 L909,657.8 L909,660.8 L911.5,662.8 L911.5,675.8" fill="none" stroke="#2a1510" stroke-width="2.4" />
<path d="M988,657.8 L991,657.8 L991,660.8 L993.5,662.8 L993.5,675.8" fill="none" stroke="#2a1510" stroke-width="2.4" />
<path d="M1213,657.8 L1216,657.8 L1216,660.8 L1218.5,662.8 L1218.5,675.8" fill="none" stroke="#2a1510" stroke-width="2.4" />
<path d="M1295,657.8 L1298,657.8 L1298,660.8 L1300.5,662.8 L1300.5,675.8" fill="none" stroke="#2a1510" stroke-width="2.4" />
<path d="M1520,657.8 L1523,657.8 L1523,660.8 L1525.5,662.8 L1525.5,675.8" fill="none" stroke="#2a1510" stroke-width="2.4" />
<path d="M1835,657.8 L1838,657.8 L1838,660.8 L1840.5,662.8 L1840.5,675.8" fill="none" stroke="#2a1510" stroke-width="2.4" />
<path d="M1917,657.8 L1920,657.8 L1920,660.8 L1922.5,662.8 L1922.5,675.8" fill="none" stroke="#2a1510" stroke-width="2.4" />
<path d="M2142,657.8 L2145,657.8 L2145,660.8 L2147.5,662.8 L2147.5,675.8" fill="none" stroke="#2a1510" stroke-width="2.4" />
<path d="M2227,657.8 L2230,657.8 L2230,660.8 L2232.5,662.8 L2232.5,675.8" fill="none" stroke="#2a1510" stroke-width="2.4" />
<path d="M2451,657.8 L2454,657.8 L2454,660.8 L2456.5,662.8 L2456.5,675.8" fill="none" stroke="#2a1510" stroke-width="2.4" />
<path d="M1609.5,675.8 L1609.5,659.8 L1615.5,659.8 L1615.5,675.8" fill="none" stroke="#2a1510" stroke-width="2.2" />
<text x="683.2" y="428.8" font-size="27.5" fill="#111" textLength="73.9" lengthAdjust="spacingAndGlyphs" >Склад</text>
<text x="685.2" y="462.6" font-size="28" fill="#111" textLength="86.9" lengthAdjust="spacingAndGlyphs" >1028 м2</text>
<text x="833.6" y="428.8" font-size="27.5" fill="#F00000" textLength="77.8" lengthAdjust="spacingAndGlyphs" >Склад</text>
<text x="836.6" y="462.6" font-size="28" fill="#F00000" textLength="98.3" lengthAdjust="spacingAndGlyphs" >1008 м2</text>
<text x="992.4" y="428.8" font-size="27.5" fill="#F00000" textLength="77.8" lengthAdjust="spacingAndGlyphs" >Склад</text>
<text x="993.7" y="462.6" font-size="28" fill="#F00000" textLength="98.9" lengthAdjust="spacingAndGlyphs" >1002 м2</text>
<text x="1141.6" y="428.8" font-size="27.5" fill="#F00000" textLength="77.8" lengthAdjust="spacingAndGlyphs" >Склад</text>
<text x="1142.2" y="462.6" font-size="28" fill="#F00000" textLength="99.7" lengthAdjust="spacingAndGlyphs" >1008 м2</text>
<text x="1299.1" y="428.8" font-size="27.5" fill="#F00000" textLength="77.8" lengthAdjust="spacingAndGlyphs" >Склад</text>
<text x="1300.5" y="462.6" font-size="28" fill="#F00000" textLength="100.1" lengthAdjust="spacingAndGlyphs" >1002 м2</text>
<text x="1447.9" y="428.8" font-size="27.5" fill="#F00000" textLength="77.8" lengthAdjust="spacingAndGlyphs" >Склад</text>
<text x="1449.0" y="462.6" font-size="28" fill="#F00000" textLength="100.8" lengthAdjust="spacingAndGlyphs" >1008 м2</text>
<text x="1618.0" y="428.8" font-size="27.5" fill="#F00000" textLength="77.8" lengthAdjust="spacingAndGlyphs" >Склад</text>
<text x="1619.8" y="462.6" font-size="28" fill="#F00000" textLength="99.6" lengthAdjust="spacingAndGlyphs" >1048 м2</text>
<text x="1765.6" y="428.8" font-size="27.5" fill="#F00000" textLength="77.8" lengthAdjust="spacingAndGlyphs" >Склад</text>
<text x="1766.7" y="462.6" font-size="28" fill="#F00000" textLength="99.7" lengthAdjust="spacingAndGlyphs" >1008 м2</text>
<text x="1932.6" y="428.8" font-size="27.5" fill="#F00000" textLength="77.8" lengthAdjust="spacingAndGlyphs" >Склад</text>
<text x="1933.3" y="462.6" font-size="28" fill="#F00000" textLength="100.5" lengthAdjust="spacingAndGlyphs" >1002 м2</text>
<text x="2073.5" y="428.8" font-size="27.5" fill="#F00000" textLength="77.8" lengthAdjust="spacingAndGlyphs" >Склад</text>
<text x="2075.8" y="462.6" font-size="28" fill="#F00000" textLength="98.5" lengthAdjust="spacingAndGlyphs" >1008 м2</text>
<text x="2238.4" y="428.8" font-size="27.5" fill="#F00000" textLength="77.8" lengthAdjust="spacingAndGlyphs" >Склад</text>
<text x="2238.5" y="462.6" font-size="28" fill="#F00000" textLength="101.1" lengthAdjust="spacingAndGlyphs" >1002 м2</text>
<text x="2427.4" y="428.8" font-size="27.5" fill="#F00000" textLength="77.8" lengthAdjust="spacingAndGlyphs" >Склад</text>
<text x="2429.0" y="462.6" font-size="28" fill="#F00000" textLength="98.8" lengthAdjust="spacingAndGlyphs" >1592 м2</text>
<rect x="123.5" y="306.0" width="417.5" height="833.0" fill="#FF8A8A" />
<rect x="330.7" y="927.0" width="210.3" height="216.0" fill="#BEBEBE" />
<line x1="124.4" y1="306.8" x2="124.4" y2="1137.0" stroke="#7A1212" stroke-width="2.0" stroke-dasharray="40 28.83"/>
<line x1="228.0" y1="306.8" x2="228.0" y2="1137.0" stroke="#7A1212" stroke-width="2.0" stroke-dasharray="40 28.83"/>
<line x1="331.3" y1="306.8" x2="331.3" y2="1137.0" stroke="#7A1212" stroke-width="2.0" stroke-dasharray="40 28.83"/>
<line x1="434.5" y1="306.8" x2="434.5" y2="1137.0" stroke="#7A1212" stroke-width="2.0" stroke-dasharray="40 28.83"/>
<line x1="538.0" y1="306.8" x2="538.0" y2="1137.0" stroke="#7A1212" stroke-width="2.0" stroke-dasharray="40 28.83"/>
<line x1="124.0" y1="306.8" x2="538.0" y2="306.8" stroke="#7A1212" stroke-width="2.0" stroke-dasharray="36 32 35.6 32.8 38 32.8"/>
<line x1="124.0" y1="513.0" x2="538.0" y2="513.0" stroke="#7A1212" stroke-width="2.0" stroke-dasharray="36 32 35.6 32.8 38 32.8"/>
<line x1="124.0" y1="719.8" x2="538.0" y2="719.8" stroke="#7A1212" stroke-width="2.0" stroke-dasharray="36 32 35.6 32.8 38 32.8"/>
<line x1="124.0" y1="926.0" x2="538.0" y2="926.0" stroke="#7A1212" stroke-width="2.0" stroke-dasharray="36 32 35.6 32.8 38 32.8"/>
<line x1="124.0" y1="1134.0" x2="538.0" y2="1134.0" stroke="#7A1212" stroke-width="2.0" stroke-dasharray="36 32 35.6 32.8 38 32.8"/>
<rect x="120.4" y="302.8" width="8.0" height="8.0" fill="none" stroke="#7A1212" stroke-width="1.6" />
<rect x="327.3" y="302.8" width="8.0" height="8.0" fill="none" stroke="#7A1212" stroke-width="1.6" />
<rect x="534.0" y="302.8" width="8.0" height="8.0" fill="none" stroke="#7A1212" stroke-width="1.6" />
<rect x="534.0" y="509.0" width="8.0" height="8.0" fill="none" stroke="#7A1212" stroke-width="1.6" />
<rect x="120.4" y="715.8" width="8.0" height="8.0" fill="none" stroke="#7A1212" stroke-width="1.6" />
<rect x="534.0" y="715.8" width="8.0" height="8.0" fill="none" stroke="#7A1212" stroke-width="1.6" />
<rect x="120.4" y="922.0" width="8.0" height="8.0" fill="none" stroke="#7A1212" stroke-width="1.6" />
<rect x="327.3" y="922.0" width="8.0" height="8.0" fill="none" stroke="#7A1212" stroke-width="1.6" />
<rect x="430.5" y="922.0" width="8.0" height="8.0" fill="none" stroke="#7A1212" stroke-width="1.6" />
<rect x="534.0" y="922.0" width="8.0" height="8.0" fill="none" stroke="#7A1212" stroke-width="1.6" />
<rect x="120.4" y="1130.0" width="8.0" height="8.0" fill="none" stroke="#7A1212" stroke-width="1.6" />
<rect x="327.3" y="1130.0" width="8.0" height="8.0" fill="none" stroke="#7A1212" stroke-width="1.6" />
<rect x="430.5" y="1130.0" width="8.0" height="8.0" fill="none" stroke="#7A1212" stroke-width="1.6" />
<rect x="534.0" y="1130.0" width="8.0" height="8.0" fill="none" stroke="#7A1212" stroke-width="1.6" />
<rect x="323.8" y="920.7" width="6.9" height="218.8" fill="#8E1A1A" />
<rect x="323.8" y="920.7" width="217.2" height="3.3" fill="#8A1414" />
<rect x="330.7" y="924.0" width="210.3" height="2.2" fill="#cfcfcf" />
<line x1="434.5" y1="927.0" x2="434.5" y2="1139.0" stroke="#2a2a2a" stroke-width="1.6" stroke-dasharray="70 6"/>
<line x1="538.0" y1="927.0" x2="538.0" y2="1139.0" stroke="#2a2a2a" stroke-width="1.6" stroke-dasharray="70 6"/>
<line x1="331.3" y1="927.0" x2="331.3" y2="1139.0" stroke="#2a2a2a" stroke-width="1.6" stroke-dasharray="70 6"/>
<path d="M515.2,923.5 L515.2,960.7 M518.3,923.5 L518.3,960.7 M518.3,929.3 L539,929.3" fill="none" stroke="#222" stroke-width="1.5" />
<path d="M506,947 L531.8,947" fill="none" stroke="#555" stroke-width="1.5" />
<path d="M469,925.9 L506.3,925.9" fill="none" stroke="#333" stroke-width="1.3" />
<circle cx="339" cy="660" r="20" fill="none" stroke="#C05A5A" stroke-width="1.3" opacity="0.8"/>
<text x="339" y="668" font-size="20" fill="#8a2a2a" text-anchor="middle" textLength="28" lengthAdjust="spacingAndGlyphs">101</text>
<circle cx="424.6" cy="1016" r="19" fill="none" stroke="#999" stroke-width="1.3"/>
<text x="422" y="1023" font-size="19" fill="#445" text-anchor="middle" textLength="28" lengthAdjust="spacingAndGlyphs">102</text>
<circle cx="491.4" cy="952.4" r="19.3" fill="none" stroke="#999" stroke-width="1.3"/>
<text x="488.3" y="961" font-size="20" fill="#555" text-anchor="middle" textLength="28" lengthAdjust="spacingAndGlyphs">103</text>
<rect x="484.0" y="856.0" width="22.0" height="37.0" fill="none" stroke="#8E1A1A" stroke-width="2" />
<line x1="484.0" y1="861.0" x2="506.0" y2="861.0" stroke="#8E1A1A" stroke-width="1.6"/>
<line x1="484.0" y1="866.0" x2="506.0" y2="866.0" stroke="#8E1A1A" stroke-width="1.6"/>
<line x1="484.0" y1="871.0" x2="506.0" y2="871.0" stroke="#8E1A1A" stroke-width="1.6"/>
<line x1="484.0" y1="876.0" x2="506.0" y2="876.0" stroke="#8E1A1A" stroke-width="1.6"/>
<line x1="484.0" y1="881.0" x2="506.0" y2="881.0" stroke="#8E1A1A" stroke-width="1.6"/>
<line x1="484.0" y1="886.0" x2="506.0" y2="886.0" stroke="#8E1A1A" stroke-width="1.6"/>
<line x1="484.0" y1="891.0" x2="506.0" y2="891.0" stroke="#8E1A1A" stroke-width="1.6"/>
<line x1="495.0" y1="856.0" x2="495.0" y2="893.0" stroke="#8E1A1A" stroke-width="1.6"/>
<line x1="500.0" y1="850.0" x2="506.0" y2="845.0" stroke="#8E1A1A" stroke-width="1.6"/>
<rect x="117.7" y="299.5" width="2.7" height="840.0" fill="#000" />
<rect x="118.0" y="299.3" width="436.0" height="1.8" fill="#000" />
<rect x="120.0" y="301.1" width="434.0" height="2.0" fill="#c8c8c8" />
<rect x="120.0" y="303.0" width="434.0" height="1.3" fill="#000" />
<rect x="539.6" y="303.0" width="3.8" height="618.0" fill="#7A1048" />
<rect x="539.6" y="921.0" width="3.8" height="218.0" fill="#24248C" />
<line x1="537.7" y1="927.0" x2="537.7" y2="1139.0" stroke="#333" stroke-width="1.2"/>
<rect x="120.0" y="1137.3" width="118.0" height="2.6" fill="#8E1A1A" />
<rect x="238.0" y="1137.5" width="88.0" height="2.4" fill="#111" />
<rect x="326.0" y="1137.8" width="229.0" height="2.4" fill="#222" />
<path d="M229.6,1094 L229.6,1137 M229.6,1094 L236,1094 L238,1099 L238,1137" fill="none" stroke="#8E1A1A" stroke-width="2.2" />
<path d="M324.5,1094 L318,1094 L316,1099 L316,1137" fill="none" stroke="#8E1A1A" stroke-width="2.2" />
<line x1="543.0" y1="513.0" x2="554.0" y2="513.0" stroke="#111" stroke-width="2"/>
<line x1="543.0" y1="719.8" x2="554.0" y2="719.8" stroke="#111" stroke-width="2"/>
<line x1="543.0" y1="1134.0" x2="554.0" y2="1134.0" stroke="#111" stroke-width="2"/>
<rect x="543.0" y="920.8" width="11.0" height="2.4" fill="#111" />
<rect x="543.0" y="924.7" width="11.0" height="2.4" fill="#111" />
<rect x="543.0" y="928.5" width="11.0" height="2.4" fill="#111" />
<line x1="79.8" y1="513.0" x2="93.0" y2="513.0" stroke="#111" stroke-width="2"/>
<line x1="79.8" y1="719.8" x2="93.0" y2="719.8" stroke="#111" stroke-width="2"/>
<line x1="79.8" y1="926.0" x2="93.0" y2="926.0" stroke="#111" stroke-width="2"/>
<line x1="79.7" y1="1051.0" x2="112.0" y2="1051.0" stroke="#111" stroke-width="2"/>
<line x1="79.0" y1="1133.0" x2="100.0" y2="1133.0" stroke="#111" stroke-width="2"/>
<circle cx="107.7" cy="719.6" r="6.5" fill="none" stroke="#888" stroke-width="1.3"/>
<line x1="124.4" y1="1139.0" x2="124.4" y2="1171.4" stroke="#222" stroke-width="2.2"/>
<line x1="228.1" y1="1139.0" x2="228.1" y2="1171.4" stroke="#222" stroke-width="2.2"/>
<line x1="331.3" y1="1139.0" x2="331.3" y2="1171.4" stroke="#222" stroke-width="2.2"/>
<line x1="434.5" y1="1139.0" x2="434.5" y2="1171.4" stroke="#222" stroke-width="2.2"/>
<line x1="538.0" y1="1139.0" x2="538.0" y2="1171.4" stroke="#222" stroke-width="2.2"/>
<rect x="154.7" y="1139.5" width="27.6" height="25.3" fill="none" stroke="#999" stroke-width="1.5" />
<rect x="442.0" y="1139.5" width="36.0" height="25.5" fill="none" stroke="#999" stroke-width="1.5" />
<text x="80" y="1157" font-size="14" fill="#E04050">.65</text>
<text x="80" y="1172" font-size="14" fill="#334">150</text>
<line x1="79.8" y1="1159.8" x2="99.6" y2="1159.8" stroke="#333" stroke-width="1.6"/>
<line x1="99.6" y1="1159.8" x2="120.0" y2="1139.0" stroke="#444" stroke-width="1.4"/>
<line x1="100.2" y1="280.7" x2="117.0" y2="299.3" stroke="#555" stroke-width="1.5"/>
<line x1="392.6" y1="280.7" x2="392.6" y2="294.5" stroke="#333" stroke-width="1.6"/>
<rect x="86.3" y="325.0" width="4.3" height="795.0" fill="#000" />
<path d="M88.3,300.7 L100.6,325.7 L76.1,325.7 Z" fill="#000" />
<path d="M75.9,1119.4 L100.4,1119.4 L88.3,1143.9 Z" fill="#000" />
<rect x="146.0" y="369.7" width="360.8" height="3.6" fill="#000" />
<path d="M121.5,371.5 L146,359.5 L146,383.6 Z" fill="#000" />
<path d="M530.4,371.5 L506.8,359.5 L506.8,383.6 Z" fill="#000" />
<text x="252.9" y="294.3" font-size="47.5" fill="#000" textLength="116.5" lengthAdjust="spacingAndGlyphs"  stroke="#000" stroke-width="0.57">1 этаж</text>
<text x="292.5" y="366.7" font-size="34.5" fill="#000" textLength="62.6" lengthAdjust="spacingAndGlyphs" >24 м</text>
<text x="21.0" y="656.9" font-size="34.5" fill="#000" textLength="62.9" lengthAdjust="spacingAndGlyphs" >48 м</text>
<text x="248.8" y="493.0" font-size="62.5" fill="#000" textLength="195.4" lengthAdjust="spacingAndGlyphs"  stroke="#000" stroke-width="0.75">1028 м2</text>
<text x="280.2" y="534.9" font-size="35.5" fill="#000" textLength="89.6" lengthAdjust="spacingAndGlyphs" >Склад</text>
<text x="354.3" y="997.3" font-size="62" fill="#000" textLength="168.9" lengthAdjust="spacingAndGlyphs"  stroke="#000" stroke-width="0.74">152 м2</text>
<text x="388.6" y="1067.7" font-size="34" fill="#000" textLength="79.6" lengthAdjust="spacingAndGlyphs" >Офис</text>
<rect x="340.0" y="1404.0" width="213.0" height="217.0" fill="#FF8A8A" />
<rect x="132.2" y="1277.0" width="3.4" height="344.0" fill="#000" />
<line x1="139.7" y1="1277.1" x2="139.7" y2="1614.0" stroke="#2a2a2a" stroke-width="2.0" stroke-dasharray="37.5 28.2" stroke-dashoffset="3.4"/>
<line x1="344.0" y1="1289.3" x2="344.0" y2="1404.0" stroke="#2a2a2a" stroke-width="2.0" stroke-dasharray="22 31.5 37.5 28.2"/>
<line x1="550.3" y1="1277.0" x2="550.3" y2="1404.0" stroke="#111" stroke-width="1.8"/>
<line x1="554.3" y1="1277.0" x2="554.3" y2="1404.0" stroke="#111" stroke-width="1.8"/>
<line x1="549.0" y1="1290.0" x2="549.0" y2="1404.0" stroke="#333" stroke-width="1.5" stroke-dasharray="28 26"/>
<line x1="139.2" y1="1409.6" x2="340.0" y2="1409.6" stroke="#2a2a2a" stroke-width="2.0" stroke-dasharray="33.2 30.3 37 30.4" stroke-dashoffset="-3.8"/>
<line x1="139.2" y1="1614.0" x2="340.0" y2="1614.0" stroke="#2a2a2a" stroke-width="2.0" stroke-dasharray="33.2 30.3 37 30.4" stroke-dashoffset="-3.8"/>
<rect x="133.0" y="1618.2" width="207.0" height="3.2" fill="#000" />
<rect x="134.0" y="1404.0" width="10.0" height="8.0" fill="#111" />
<rect x="134.0" y="1610.0" width="10.0" height="9.0" fill="#111" />
<rect x="338.3" y="1403.6" width="5.2" height="217.4" fill="#000" />
<rect x="338.3" y="1403.6" width="215.7" height="3.1" fill="#7A0E0E" />
<rect x="550.8" y="1403.6" width="3.4" height="217.4" fill="#7A0E0E" />
<rect x="338.3" y="1617.4" width="215.7" height="3.8" fill="#7A0E0E" />
<line x1="344.5" y1="1410.0" x2="344.5" y2="1614.0" stroke="#7A1212" stroke-width="1.8" stroke-dasharray="30 28"/>
<line x1="549.0" y1="1410.0" x2="549.0" y2="1614.0" stroke="#7A1212" stroke-width="1.8" stroke-dasharray="30 28"/>
<line x1="344.0" y1="1409.4" x2="549.0" y2="1409.4" stroke="#7A1212" stroke-width="1.8" stroke-dasharray="30 28" stroke-dashoffset="-8"/>
<line x1="344.0" y1="1614.0" x2="549.0" y2="1614.0" stroke="#7A1212" stroke-width="1.8" stroke-dasharray="30 28" stroke-dashoffset="-8"/>
<rect x="494.5" y="1293.8" width="50.7" height="3.2" fill="#000" />
<rect x="494.5" y="1293.8" width="3.1" height="53.9" fill="#000" />
<rect x="542.1" y="1293.8" width="3.1" height="110.2" fill="#000" />
<rect x="494.5" y="1375.1" width="26.4" height="2.2" fill="#000" />
<rect x="494.5" y="1375.1" width="3.1" height="28.9" fill="#000" />
<rect x="497.6" y="1317.2" width="44.5" height="1.3" fill="#000" />
<rect x="497.6" y="1318.0" width="21.2" height="29.0" fill="#000" />
<rect x="520.9" y="1318.0" width="21.2" height="57.6" fill="#000" />
<rect x="498.6" y="1320.6" width="7.6" height="2.7" fill="#fff" rx="1"/>
<rect x="508.5" y="1320.6" width="8.3" height="2.7" fill="#fff" rx="1"/>
<rect x="522.5" y="1320.6" width="10.3" height="2.7" fill="#fff" rx="1"/>
<rect x="534.9" y="1320.6" width="6.4" height="2.7" fill="#fff" rx="1"/>
<rect x="498.6" y="1325.7" width="7.6" height="2.7" fill="#fff" rx="1"/>
<rect x="508.5" y="1325.7" width="8.3" height="2.7" fill="#fff" rx="1"/>
<rect x="522.5" y="1325.7" width="10.3" height="2.7" fill="#fff" rx="1"/>
<rect x="534.9" y="1325.7" width="6.4" height="2.7" fill="#fff" rx="1"/>
<rect x="498.6" y="1330.8" width="7.6" height="2.7" fill="#fff" rx="1"/>
<rect x="508.5" y="1330.8" width="8.3" height="2.7" fill="#fff" rx="1"/>
<rect x="522.5" y="1330.8" width="10.3" height="2.7" fill="#fff" rx="1"/>
<rect x="534.9" y="1330.8" width="6.4" height="2.7" fill="#fff" rx="1"/>
<rect x="498.6" y="1335.9" width="7.6" height="2.7" fill="#fff" rx="1"/>
<rect x="508.5" y="1335.9" width="8.3" height="2.7" fill="#fff" rx="1"/>
<rect x="522.5" y="1335.9" width="10.3" height="2.7" fill="#fff" rx="1"/>
<rect x="534.9" y="1335.9" width="6.4" height="2.7" fill="#fff" rx="1"/>
<rect x="498.6" y="1341.0" width="7.6" height="2.7" fill="#fff" rx="1"/>
<rect x="508.5" y="1341.0" width="8.3" height="2.7" fill="#fff" rx="1"/>
<rect x="522.5" y="1341.0" width="10.3" height="2.7" fill="#fff" rx="1"/>
<rect x="534.9" y="1341.0" width="6.4" height="2.7" fill="#fff" rx="1"/>
<rect x="522.5" y="1346.1" width="10.3" height="2.7" fill="#fff" rx="1"/>
<rect x="534.9" y="1346.1" width="6.4" height="2.7" fill="#fff" rx="1"/>
<rect x="522.5" y="1351.2" width="10.3" height="2.7" fill="#fff" rx="1"/>
<rect x="534.9" y="1351.2" width="6.4" height="2.7" fill="#fff" rx="1"/>
<rect x="522.5" y="1356.3" width="10.3" height="2.7" fill="#fff" rx="1"/>
<rect x="534.9" y="1356.3" width="6.4" height="2.7" fill="#fff" rx="1"/>
<rect x="522.5" y="1361.4" width="10.3" height="2.7" fill="#fff" rx="1"/>
<rect x="534.9" y="1361.4" width="6.4" height="2.7" fill="#fff" rx="1"/>
<rect x="522.5" y="1366.5" width="10.3" height="2.7" fill="#fff" rx="1"/>
<rect x="534.9" y="1366.5" width="6.4" height="2.7" fill="#fff" rx="1"/>
<rect x="522.5" y="1371.6" width="10.3" height="2.7" fill="#fff" rx="1"/>
<rect x="534.9" y="1371.6" width="6.4" height="2.7" fill="#fff" rx="1"/>
<path d="M497.6,1347.7 L508,1343 L518.8,1338 L518.8,1348 Z" fill="#fff" />
<line x1="139.0" y1="1621.0" x2="139.0" y2="1654.0" stroke="#222" stroke-width="2"/>
<line x1="344.0" y1="1621.0" x2="344.0" y2="1654.0" stroke="#222" stroke-width="2"/>
<line x1="549.0" y1="1621.0" x2="549.0" y2="1654.0" stroke="#222" stroke-width="2"/>
<circle cx="439.8" cy="1509" r="19.7" fill="none" stroke="#C86060" stroke-width="1.3" opacity="0.8"/>
<text x="439.8" y="1517" font-size="21" fill="#7a2a2a" text-anchor="middle" textLength="29" lengthAdjust="spacingAndGlyphs">201</text>
<text x="256.6" y="1289.7" font-size="46.5" fill="#000" textLength="119.1" lengthAdjust="spacingAndGlyphs"  stroke="#000" stroke-width="0.56">2 этаж</text>
<text x="361.2" y="1460.5" font-size="63" fill="#000" textLength="170.2" lengthAdjust="spacingAndGlyphs"  stroke="#000" stroke-width="0.76">157 м2</text>
<text x="394.7" y="1489.5" font-size="33" fill="#000" textLength="89.1" lengthAdjust="spacingAndGlyphs" >Склад</text>
<line x1="588.8" y1="300.5" x2="588.8" y2="1622.0" stroke="#E00018" stroke-width="4.2" stroke-dasharray="4.4 3.881"/>
<text x="102.2" y="146.5" font-size="108" font-weight="bold" fill="#1C1C1C" textLength="1132.4" lengthAdjust="spacingAndGlyphs" >Корпус 2. Планировка</text>
<text x="112.8" y="219.8" font-size="77" font-weight="bold" fill="#1C1C1C" textLength="1238.8" lengthAdjust="spacingAndGlyphs" >Универсальные блоки от 1300 м2</text>
<text x="2561.4" y="117.9" font-size="77.5" font-weight="bold" fill="#1C1C1C" textLength="28.8" lengthAdjust="spacingAndGlyphs" stroke="#1C1C1C" stroke-width="0.6">О</text>
<text x="2590.9" y="117.9" font-size="77.5" font-weight="bold" fill="#1C1C1C" textLength="29.2" lengthAdjust="spacingAndGlyphs" stroke="#1C1C1C" stroke-width="0.6">Б</text>
<text x="2621.0" y="117.9" font-size="77.5" font-weight="bold" fill="#1C1C1C" textLength="46.2" lengthAdjust="spacingAndGlyphs" stroke="#1C1C1C" stroke-width="0.6">Щ</text>
<text x="2669.0" y="117.9" font-size="77.5" font-weight="bold" fill="#1C1C1C" textLength="30.1" lengthAdjust="spacingAndGlyphs" stroke="#1C1C1C" stroke-width="0.6">А</text>
<text x="2700.0" y="117.9" font-size="77.5" font-weight="bold" fill="#1C1C1C" textLength="28.3" lengthAdjust="spacingAndGlyphs" stroke="#1C1C1C" stroke-width="0.6">Я</text>
<text x="2741.3" y="117.9" font-size="77.5" font-weight="bold" fill="#1C1C1C" textLength="29.1" lengthAdjust="spacingAndGlyphs" stroke="#1C1C1C" stroke-width="0.6">П</text>
<text x="2773.8" y="117.9" font-size="77.5" font-weight="bold" fill="#1C1C1C" textLength="32.3" lengthAdjust="spacingAndGlyphs" stroke="#1C1C1C" stroke-width="0.6">Л</text>
<text x="2807.2" y="117.9" font-size="77.5" font-weight="bold" fill="#1C1C1C" textLength="28.0" lengthAdjust="spacingAndGlyphs" stroke="#1C1C1C" stroke-width="0.6">О</text>
<text x="2836.0" y="117.9" font-size="77.5" font-weight="bold" fill="#1C1C1C" textLength="45.7" lengthAdjust="spacingAndGlyphs" stroke="#1C1C1C" stroke-width="0.6">Щ</text>
<text x="2883.6" y="117.9" font-size="77.5" font-weight="bold" fill="#1C1C1C" textLength="29.8" lengthAdjust="spacingAndGlyphs" stroke="#1C1C1C" stroke-width="0.6">А</text>
<text x="2914.6" y="117.9" font-size="77.5" font-weight="bold" fill="#1C1C1C" textLength="35.3" lengthAdjust="spacingAndGlyphs" stroke="#1C1C1C" stroke-width="0.6">Д</text>
<text x="2950.8" y="117.9" font-size="77.5" font-weight="bold" fill="#1C1C1C" textLength="28.1" lengthAdjust="spacingAndGlyphs" stroke="#1C1C1C" stroke-width="0.6">Ь</text>
<rect x="2619.5" y="177.7" width="37.5" height="7.1" fill="#1C1C1C" />
<path d="M2682,154.5 L2690.9,154.5 L2690.9,207.5 L2682,207.5 L2682,167.5 L2676.6,167.5 L2676.6,159.5 Q2680.5,158.5 2682,154.5 Z" fill="#1C1C1C" />
<text x="2697.9" y="207.5" font-size="77" font-weight="bold" fill="#1C1C1C" textLength="28.8" lengthAdjust="spacingAndGlyphs" stroke="#1C1C1C" stroke-width="0.6">6</text>
<text x="2739.2" y="207.5" font-size="77" font-weight="bold" fill="#1C1C1C" textLength="28.8" lengthAdjust="spacingAndGlyphs" stroke="#1C1C1C" stroke-width="0.6">4</text>
<text x="2769.5" y="207.5" font-size="77" font-weight="bold" fill="#1C1C1C" textLength="27.9" lengthAdjust="spacingAndGlyphs" stroke="#1C1C1C" stroke-width="0.6">5</text>
<text x="2798.2" y="207.5" font-size="77" font-weight="bold" fill="#1C1C1C" textLength="28.7" lengthAdjust="spacingAndGlyphs" stroke="#1C1C1C" stroke-width="0.6">4</text>
<text x="2850.7" y="207.5" font-size="77" font-weight="bold" fill="#1C1C1C" textLength="41.7" lengthAdjust="spacingAndGlyphs" stroke="#1C1C1C" stroke-width="0.6">М</text>
<text x="2891.8" y="207.5" font-size="77" font-weight="bold" fill="#1C1C1C" textLength="28.9" lengthAdjust="spacingAndGlyphs" stroke="#1C1C1C" stroke-width="0.6">2</text>
<text x="1546.5" y="237.7" font-size="80.5" fill="#000" textLength="37.7" lengthAdjust="spacingAndGlyphs"  stroke="#000" stroke-width="0.97">1</text>
<text x="1596.2" y="237.7" font-size="80.5" fill="#000" textLength="150.1" lengthAdjust="spacingAndGlyphs"  stroke="#000" stroke-width="0.97">этаж</text>
<rect x="649.6" y="799.8" width="38.4" height="38.0" fill="#FF0000" />
<rect x="1195.8" y="799.8" width="38.9" height="37.8" fill="#FF0000" />
<rect x="1677.3" y="801.0" width="38.4" height="38.4" fill="#FF0000" />
<rect x="2249.8" y="801.0" width="38.4" height="38.4" fill="#FF0000" />
<text x="690.0" y="922.6" font-size="110" fill="#000" textLength="58.1" lengthAdjust="spacingAndGlyphs"  stroke="#000" stroke-width="1.32">8</text>
<text x="745.0" y="922.6" font-size="63" fill="#000" textLength="190.7" lengthAdjust="spacingAndGlyphs"  stroke="#000" stroke-width="0.76">метров</text>
<text x="687.3" y="1001.8" font-size="60" fill="#000" textLength="176.1" lengthAdjust="spacingAndGlyphs"  stroke="#000" stroke-width="0.72">высота</text>
<text x="876.9" y="1001.8" font-size="60" fill="#000" textLength="240.5" lengthAdjust="spacingAndGlyphs"  stroke="#000" stroke-width="0.72">потолков</text>
<text x="1240.6" y="922.6" font-size="108" fill="#000" textLength="47.9" lengthAdjust="spacingAndGlyphs"  stroke="#000" stroke-width="1.30">5</text>
<text x="1288.4" y="922.6" font-size="64" fill="#000" textLength="124.1" lengthAdjust="spacingAndGlyphs"  stroke="#000" stroke-width="0.77">т/м2</text>
<text x="1234.3" y="1001.8" font-size="60" fill="#000" textLength="225.2" lengthAdjust="spacingAndGlyphs"  stroke="#000" stroke-width="0.72">нагрузка</text>
<text x="1471.9" y="1001.8" font-size="60" fill="#000" textLength="62.1" lengthAdjust="spacingAndGlyphs"  stroke="#000" stroke-width="0.72">на</text>
<text x="1542.9" y="1001.8" font-size="60" fill="#000" textLength="96.5" lengthAdjust="spacingAndGlyphs"  stroke="#000" stroke-width="0.72">пол</text>
<text x="1717.3" y="918.6" font-size="108" fill="#000" textLength="101.9" lengthAdjust="spacingAndGlyphs"  stroke="#000" stroke-width="1.30">12</text>
<text x="1834.9" y="918.6" font-size="61" fill="#000" textLength="40.7" lengthAdjust="spacingAndGlyphs"  stroke="#000" stroke-width="0.73">м</text>
<text x="1894.9" y="918.6" font-size="61" fill="#000" textLength="26.0" lengthAdjust="spacingAndGlyphs"  stroke="#000" stroke-width="0.73">х</text>
<text x="1943.0" y="918.6" font-size="108" fill="#000" textLength="102.7" lengthAdjust="spacingAndGlyphs"  stroke="#000" stroke-width="1.30">12</text>
<text x="2061.4" y="918.6" font-size="61" fill="#000" textLength="40.7" lengthAdjust="spacingAndGlyphs"  stroke="#000" stroke-width="0.73">м</text>
<rect x="2122.6" y="900.3" width="23.3" height="4.0" fill="#000" />
<text x="1712.0" y="999.4" font-size="60" fill="#000" textLength="99.0" lengthAdjust="spacingAndGlyphs"  stroke="#000" stroke-width="0.72">шаг</text>
<text x="1818.2" y="999.4" font-size="60" fill="#000" textLength="184.8" lengthAdjust="spacingAndGlyphs"  stroke="#000" stroke-width="0.72">колонн</text>
<text x="2294.8" y="893.0" font-size="61" fill="#000" textLength="97.9" lengthAdjust="spacingAndGlyphs"  stroke="#000" stroke-width="0.73">Док</text>
<text x="2403.3" y="893.0" font-size="61" fill="#000" textLength="28.2" lengthAdjust="spacingAndGlyphs"  stroke="#000" stroke-width="0.73">в</text>
<text x="2442.8" y="893.0" font-size="61" fill="#000" textLength="198.8" lengthAdjust="spacingAndGlyphs"  stroke="#000" stroke-width="0.73">каждом</text>
<text x="2292.7" y="962.9" font-size="61" fill="#000" textLength="151.8" lengthAdjust="spacingAndGlyphs"  stroke="#000" stroke-width="0.73">блоке</text>
<text x="1536.8" y="1403.7" font-size="38.8" fill="#1E1E1E" textLength="134.8" lengthAdjust="spacingAndGlyphs" >Каждый</text>
<text x="1673.9" y="1403.7" font-size="38.8" fill="#1E1E1E" textLength="78.8" lengthAdjust="spacingAndGlyphs" >блок</text>
<text x="1761.6" y="1403.7" font-size="38.8" fill="#1E1E1E" textLength="96.6" lengthAdjust="spacingAndGlyphs" >имеет</text>
<text x="1865.9" y="1403.7" font-size="38.8" fill="#1E1E1E" textLength="180.0" lengthAdjust="spacingAndGlyphs" >отдельный</text>
<text x="2053.3" y="1403.7" font-size="38.8" fill="#1E1E1E" textLength="94.1" lengthAdjust="spacingAndGlyphs" >вход,</text>
<text x="2144.7" y="1403.7" font-size="38.8" fill="#1E1E1E" textLength="136.8" lengthAdjust="spacingAndGlyphs" >высокие</text>
<text x="2290.7" y="1403.7" font-size="38.8" fill="#1E1E1E" textLength="136.4" lengthAdjust="spacingAndGlyphs" >потолки</text>
<text x="2436.1" y="1403.7" font-size="38.8" fill="#1E1E1E" textLength="58.7" lengthAdjust="spacingAndGlyphs" >для</text>
<text x="2501.3" y="1403.7" font-size="38.8" fill="#1E1E1E" textLength="245.2" lengthAdjust="spacingAndGlyphs" >оборудования.</text>
<text x="1787.7" y="1471.6" font-size="38.8" fill="#1E1E1E" textLength="43.3" lengthAdjust="spacingAndGlyphs" >На</text>
<text x="1841.1" y="1471.6" font-size="38.8" fill="#1E1E1E" textLength="18.1" lengthAdjust="spacingAndGlyphs" >1</text>
<text x="1866.5" y="1471.6" font-size="38.8" fill="#1E1E1E" textLength="96.1" lengthAdjust="spacingAndGlyphs" >этаже</text>
<text x="1971.2" y="1471.6" font-size="38.8" fill="#1E1E1E" textLength="165.5" lengthAdjust="spacingAndGlyphs" >находятся</text>
<text x="2142.8" y="1471.6" font-size="38.8" fill="#1E1E1E" textLength="147.5" lengthAdjust="spacingAndGlyphs" >офисные</text>
<text x="2296.7" y="1471.6" font-size="38.8" fill="#1E1E1E" textLength="200.5" lengthAdjust="spacingAndGlyphs" >помещения.</text>
<text x="1452.4" y="1538.7" font-size="38.8" fill="#1E1E1E" textLength="176.1" lengthAdjust="spacingAndGlyphs" >Несколько</text>
<text x="1635.9" y="1538.7" font-size="38.8" fill="#1E1E1E" textLength="119.1" lengthAdjust="spacingAndGlyphs" >блоков</text>
<text x="1762.0" y="1538.7" font-size="38.8" fill="#1E1E1E" textLength="109.0" lengthAdjust="spacingAndGlyphs" >можно</text>
<text x="1879.0" y="1538.7" font-size="38.8" fill="#1E1E1E" textLength="197.7" lengthAdjust="spacingAndGlyphs" >объединить</text>
<text x="2085.7" y="1538.7" font-size="38.8" fill="#1E1E1E" textLength="17.8" lengthAdjust="spacingAndGlyphs" >в</text>
<text x="2111.4" y="1538.7" font-size="38.8" fill="#1E1E1E" textLength="123.4" lengthAdjust="spacingAndGlyphs" >единое</text>
<text x="2238.6" y="1538.7" font-size="38.8" fill="#1E1E1E" textLength="227.8" lengthAdjust="spacingAndGlyphs" >пространство</text>
<text x="2474.7" y="1538.7" font-size="38.8" fill="#1E1E1E" textLength="21.9" lengthAdjust="spacingAndGlyphs" >и</text>
<text x="2498.3" y="1538.7" font-size="38.8" fill="#1E1E1E" textLength="169.2" lengthAdjust="spacingAndGlyphs" >увеличить</text>
<text x="2678.9" y="1538.7" font-size="38.8" fill="#1E1E1E" textLength="160.3" lengthAdjust="spacingAndGlyphs" >площадь.</text>
</svg>
</body></html>
